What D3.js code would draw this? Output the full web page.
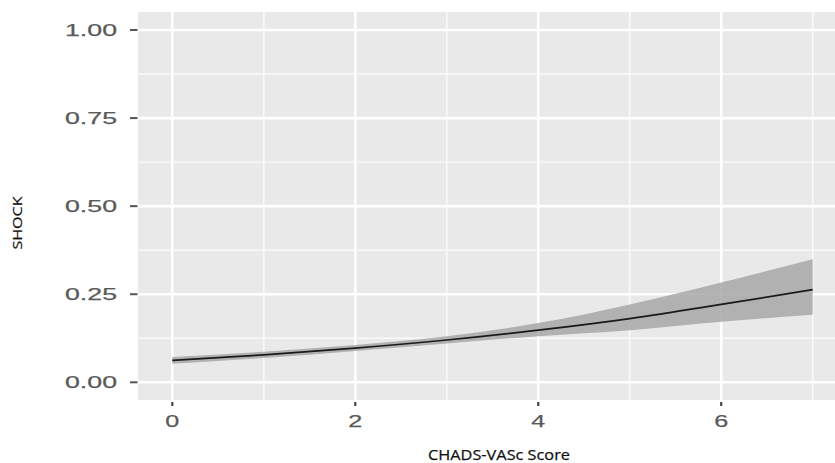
<!DOCTYPE html>
<html>
<head>
<meta charset="utf-8">
<script src="https://cdn.jsdelivr.net/npm/d3@7"></script>
<style>
  html, body { margin: 0; padding: 0; background: #fff; }
  svg { display: block; }
</style>
</head>
<body>
<svg id="chart" width="835" height="463"></svg>
<script>
// CHADS-VASc score vs. predicted probability of shock, with confidence band
const scores    = [0, 1, 2, 3, 4, 5, 6, 7];
const shockFit  = [0.062, 0.078, 0.097, 0.120, 0.148, 0.181, 0.221, 0.263];
const shockLow  = [0.053, 0.069, 0.089, 0.110, 0.131, 0.148, 0.172, 0.192];
const shockHigh = [0.072, 0.087, 0.106, 0.131, 0.168, 0.221, 0.283, 0.349];

const xTicks      = [0, 2, 4, 6];
const xMinorTicks = [1, 3, 5, 7];
const yTicks      = [0, 0.25, 0.5, 0.75, 1];
const yMinorTicks = [0.125, 0.375, 0.625, 0.875];

const rows = scores.map((s, i) => ({ x: s, y: shockFit[i], lo: shockLow[i], hi: shockHigh[i] }));

const svg = d3.select("#chart");
const panel = { left: 138, top: 12, right: 835, bottom: 400 };

const x = d3.scaleLinear().domain([0, 7]).range([172.3, 812.7]);
const y = d3.scaleLinear().domain([0, 1]).range([382.3, 30]);

// panel background
svg.append("rect")
  .attr("x", panel.left).attr("y", panel.top)
  .attr("width", panel.right - panel.left).attr("height", panel.bottom - panel.top)
  .attr("fill", "#e9e9e9");

const grid = svg.append("g");
grid.selectAll("line.ymin").data(yMinorTicks).join("line")
  .attr("x1", panel.left).attr("x2", panel.right)
  .attr("y1", d => y(d)).attr("y2", d => y(d))
  .attr("stroke", "#fafafa").attr("stroke-width", 1.4);
grid.selectAll("line.xmin").data(xMinorTicks).join("line")
  .attr("y1", panel.top).attr("y2", panel.bottom)
  .attr("x1", d => x(d)).attr("x2", d => x(d))
  .attr("stroke", "#fafafa").attr("stroke-width", 1.6);
grid.selectAll("line.ymaj").data(yTicks).join("line")
  .attr("x1", panel.left).attr("x2", panel.right)
  .attr("y1", d => y(d)).attr("y2", d => y(d))
  .attr("stroke", "#ffffff").attr("stroke-width", 2.6);
grid.selectAll("line.xmaj").data(xTicks).join("line")
  .attr("y1", panel.top).attr("y2", panel.bottom)
  .attr("x1", d => x(d)).attr("x2", d => x(d))
  .attr("stroke", "#ffffff").attr("stroke-width", 2.6);

// confidence band
const area = d3.area().curve(d3.curveMonotoneX)
  .x(d => x(d.x)).y0(d => y(d.lo)).y1(d => y(d.hi));
svg.append("path").datum(rows)
  .attr("d", area)
  .attr("fill", "#a3a3a3").attr("fill-opacity", 0.8);

// fitted line
const line = d3.line().curve(d3.curveMonotoneX)
  .x(d => x(d.x)).y(d => y(d.y));
svg.append("path").datum(rows)
  .attr("d", line)
  .attr("fill", "none").attr("stroke", "#1a1a1a").attr("stroke-width", 1.7);

// y axis
const yAxis = svg.append("g");
yAxis.selectAll("line").data(yTicks).join("line")
  .attr("x1", 130).attr("x2", 137.5)
  .attr("y1", d => y(d)).attr("y2", d => y(d))
  .attr("stroke", "#555").attr("stroke-width", 2);
yAxis.selectAll("text").data(yTicks).join("text")
  .attr("x", 117).attr("y", d => y(d))
  .attr("dy", "0.36em")
  .attr("text-anchor", "end")
  .attr("font-family", "Liberation Sans, Arial, sans-serif")
  .attr("font-size", 16.5)
  .attr("fill", "#5a5a5a").attr("stroke", "#5a5a5a").attr("stroke-width", 0.25)
  .attr("textLength", 52).attr("lengthAdjust", "spacingAndGlyphs")
  .text(d => d3.format(".2f")(d));

// x axis
const xAxis = svg.append("g");
xAxis.selectAll("line").data(xTicks).join("line")
  .attr("x1", d => x(d)).attr("x2", d => x(d))
  .attr("y1", 402).attr("y2", 406)
  .attr("stroke", "#444").attr("stroke-width", 2.2);
xAxis.selectAll("text").data(xTicks).join("text")
  .attr("x", d => x(d)).attr("y", 427)
  .attr("text-anchor", "middle")
  .attr("font-family", "Liberation Sans, Arial, sans-serif")
  .attr("font-size", 16.5)
  .attr("fill", "#5a5a5a").attr("stroke", "#5a5a5a").attr("stroke-width", 0.25)
  .attr("textLength", 14).attr("lengthAdjust", "spacingAndGlyphs")
  .text(d => d);

// axis titles
svg.append("text")
  .attr("x", 499).attr("y", 460)
  .attr("text-anchor", "middle")
  .attr("font-family", "Open Sans, Liberation Sans, sans-serif")
  .attr("font-size", 15)
  .attr("fill", "#111").attr("stroke", "#111").attr("stroke-width", 0.25)
  .attr("textLength", 142).attr("lengthAdjust", "spacingAndGlyphs")
  .text("CHADS-VASc Score");

svg.append("text")
  .attr("transform", "translate(22,223) rotate(-90)")
  .attr("text-anchor", "middle")
  .attr("font-family", "Open Sans, Liberation Sans, sans-serif")
  .attr("font-size", 12.5)
  .attr("fill", "#111").attr("stroke", "#111").attr("stroke-width", 0.2)
  .attr("textLength", 53).attr("lengthAdjust", "spacingAndGlyphs")
  .text("SHOCK");
</script>
</body>
</html>
